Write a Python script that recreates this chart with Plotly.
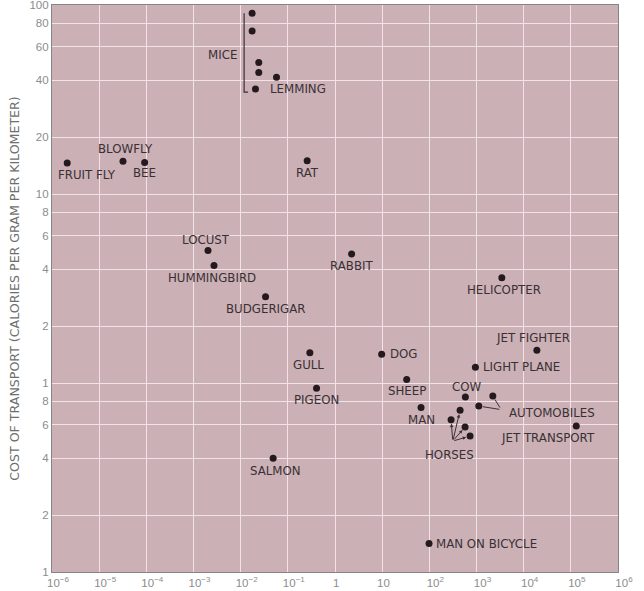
import math
import plotly.graph_objects as go

# ---------------- data ----------------
mice_mass = [0.0175, 0.0175, 0.0242, 0.0242, 0.0206]
mice_cost = [90.4, 72.9, 49.6, 43.9, 35.9]

auto_mass = [2218, 1119]
auto_cost = [0.853, 0.755]

horse_mass = [289, 449, 573, 731]
horse_cost = [0.640, 0.717, 0.585, 0.524]

single_names = ["LEMMING", "FRUIT FLY", "BLOWFLY", "BEE", "RAT", "LOCUST",
                "HUMMINGBIRD", "BUDGERIGAR", "GULL", "PIGEON", "SALMON",
                "RABBIT", "HELICOPTER", "JET FIGHTER", "DOG", "LIGHT PLANE",
                "SHEEP", "COW", "MAN", "JET TRANSPORT", "MAN ON BICYCLE"]
single_mass = [0.0575, 2.1e-6, 3.2e-5, 9.2e-5, 0.257, 0.00203,
               0.00272, 0.0337, 0.293, 0.406, 0.0488,
               2.25, 3444, 19050, 9.75, 948,
               33.1, 581, 66.7, 130300, 98.6]
single_cost = [41.5, 14.6, 14.9, 14.7, 15.0, 5.02,
               4.18, 2.86, 1.445, 0.937, 0.400,
               4.82, 3.60, 1.49, 1.42, 1.21,
               1.045, 0.842, 0.741, 0.592, 0.1416]

NB = "\u00a0\u00a0\u00a0"  # keeps plain labels centred on their gridline
x_tickvals = [1e-6, 1e-5, 1e-4, 1e-3, 1e-2, 1e-1, 1, 10, 1e2, 1e3, 1e4, 1e5, 1e6]
x_ticktext = ["10<sup>−6</sup>", "10<sup>−5</sup>", "10<sup>−4</sup>", "10<sup>−3</sup>",
              "10<sup>−2</sup>", "10<sup>−1</sup>", "1" + NB, "10" + NB, "10<sup>2</sup>",
              "10<sup>3</sup>", "10<sup>4</sup>", "10<sup>5</sup>", "10<sup>6</sup>"]
y_tickvals = [0.1, 0.2, 0.4, 0.6, 0.8, 1, 2, 4, 6, 8, 10, 20, 40, 60, 80, 100]
y_ticktext = ["1", "2", "4", "6", "8", "1", "2", "4", "6", "8",
              "10", "20", "40", "60", "80", "100"]

y_title = "COST OF TRANSPORT (CALORIES PER GRAM PER KILOMETER)"

# ---------------- style ----------------
BG = "#cbb1b6"
GRID = "#f3e3e6"
DOT = "#241a1e"
TXT = "#3a3034"
TICK = "#8c8c8c"
FONT = "Liberation Sans, Arial, sans-serif"
LFONT = "DejaVu Sans, Liberation Sans, sans-serif"
PX_PER_DEC_X = 47.1
PX_PER_DEC_Y = 189.3
L = math.log10  # annotations on log axes take log10 positions

# label placement: (xanchor, dx px, dy px downward)
label_pos = {
    "LEMMING": ("left", -9, 12), "FRUIT FLY": ("center", 20, 12),
    "BLOWFLY": ("center", 3, -12), "BEE": ("center", 0, 11),
    "RAT": ("center", 0, 12), "LOCUST": ("center", -2, -11),
    "HUMMINGBIRD": ("center", -2, 12), "BUDGERIGAR": ("center", 0, 12),
    "GULL": ("center", -1, 12), "PIGEON": ("center", 0, 12),
    "SALMON": ("center", 2, 13), "RABBIT": ("center", 0, 12.5),
    "HELICOPTER": ("center", 2, 12), "JET FIGHTER": ("center", -4, -12),
    "DOG": ("left", 6, 0), "LIGHT PLANE": ("left", 6, 0),
    "SHEEP": ("center", 0, 12), "COW": ("center", 2, -10),
    "MAN": ("center", 0, 12), "JET TRANSPORT": ("center", -28, 12),
    "MAN ON BICYCLE": ("left", 5, 1),
}

fig = go.Figure()

all_x = mice_mass + auto_mass + horse_mass + single_mass
all_y = mice_cost + auto_cost + horse_cost + single_cost
fig.add_trace(go.Scatter(x=all_x, y=all_y, mode="markers",
                         marker=dict(size=7, color=DOT), hoverinfo="skip",
                         showlegend=False, cliponaxis=False))

# mice bracket (derived from mice data, offsets in pixels)
bx = min(mice_mass) / 10 ** (8 / PX_PER_DEC_X)
bhook = bx * 10 ** (4 / PX_PER_DEC_X)
btop = max(mice_cost)
bbot = min(mice_cost) / 10 ** (3 / PX_PER_DEC_Y)
fig.add_trace(go.Scatter(x=[bx, bx, bhook], y=[btop, bbot, bbot], mode="lines",
                         line=dict(color=TXT, width=1.2), hoverinfo="skip",
                         showlegend=False))

lab_font = dict(family=LFONT, size=11.8, color=TXT)
annotations = []
for name, xv, yv in zip(single_names, single_mass, single_cost):
    xa, dx, dy = label_pos[name]
    annotations.append(dict(x=L(xv), y=L(yv), xref="x", yref="y", text=name,
                            showarrow=False, xanchor=xa, yanchor="middle",
                            xshift=dx, yshift=-dy, font=lab_font))

# group labels
mid = (max(mice_cost) * min(mice_cost)) ** 0.5
annotations.append(dict(x=L(bx), y=L(mid), xref="x", yref="y", text="MICE",
                        showarrow=False, xanchor="right", yanchor="middle",
                        xshift=-5, yshift=-4, font=lab_font))
annotations.append(dict(x=L(auto_mass[1]), y=L(auto_cost[1]), xref="x", yref="y",
                        text="AUTOMOBILES", showarrow=False, xanchor="left",
                        yanchor="middle", xshift=28, yshift=-7, font=lab_font))
annotations.append(dict(x=L(horse_mass[0]), y=L(horse_cost[0]), xref="x", yref="y",
                        text="HORSES", showarrow=False, xanchor="center",
                        yanchor="middle", xshift=-2, yshift=-35, font=lab_font))

# automobile bracket lines (converge right of the points)
conv = [(8, 13), (22, 3.5)]
for (xv, yv), (ax, ay) in zip(zip(auto_mass, auto_cost), conv):
    annotations.append(dict(x=L(xv), y=L(yv), xref="x", yref="y", text="",
                            showarrow=True, arrowhead=0, arrowwidth=1,
                            arrowcolor=TXT, ax=ax, ay=ay, standoff=4))

# horse arrows from a common origin above the label
horse_tail = [(1.7, 21.4), (-7.3, 30.7), (-12.3, 14), (-17.3, 5)]
for (xv, yv), (ax, ay) in zip(zip(horse_mass, horse_cost), horse_tail):
    annotations.append(dict(x=L(xv), y=L(yv), xref="x", yref="y", text="",
                            showarrow=True, arrowhead=2, arrowsize=0.7,
                            arrowwidth=1, arrowcolor=TXT, ax=ax, ay=ay,
                            standoff=4))

fig.update_layout(
    width=644, height=591,
    margin=dict(l=52, r=26, t=5, b=19),
    paper_bgcolor="white", plot_bgcolor=BG,
    font=dict(family=FONT, size=11, color=TXT),
    annotations=annotations,
    showlegend=False,
)
fig.update_xaxes(type="log", range=[-6, 6], tickvals=x_tickvals, ticktext=x_ticktext,
                 showgrid=True, gridcolor=GRID, gridwidth=1.3, zeroline=False,
                 showline=True, mirror=True, linecolor="#858585", linewidth=1.2,
                 ticks="", tickfont=dict(family=FONT, size=11.5, color=TICK),
                 ticklabelshift=6, ticklabelstandoff=0, automargin=False,
                 ticklabeloverflow="allow")
fig.update_yaxes(type="log", range=[-1, 2], tickvals=y_tickvals, ticktext=y_ticktext,
                 showgrid=True, gridcolor=GRID, gridwidth=1.3, zeroline=False,
                 showline=True, mirror=True, linecolor="#858585", linewidth=1.2,
                 ticks="", tickfont=dict(family=FONT, size=11.5, color=TICK),
                 automargin=False, ticklabeloverflow="allow",
                 title=dict(text=y_title, font=dict(family=LFONT, size=12.6, color="#6e6e6e"),
                            standoff=7))

fig.write_html("out.html", config={"displayModeBar": False},
               post_script="document.body.style.margin='0';document.body.style.overflow='hidden';")
